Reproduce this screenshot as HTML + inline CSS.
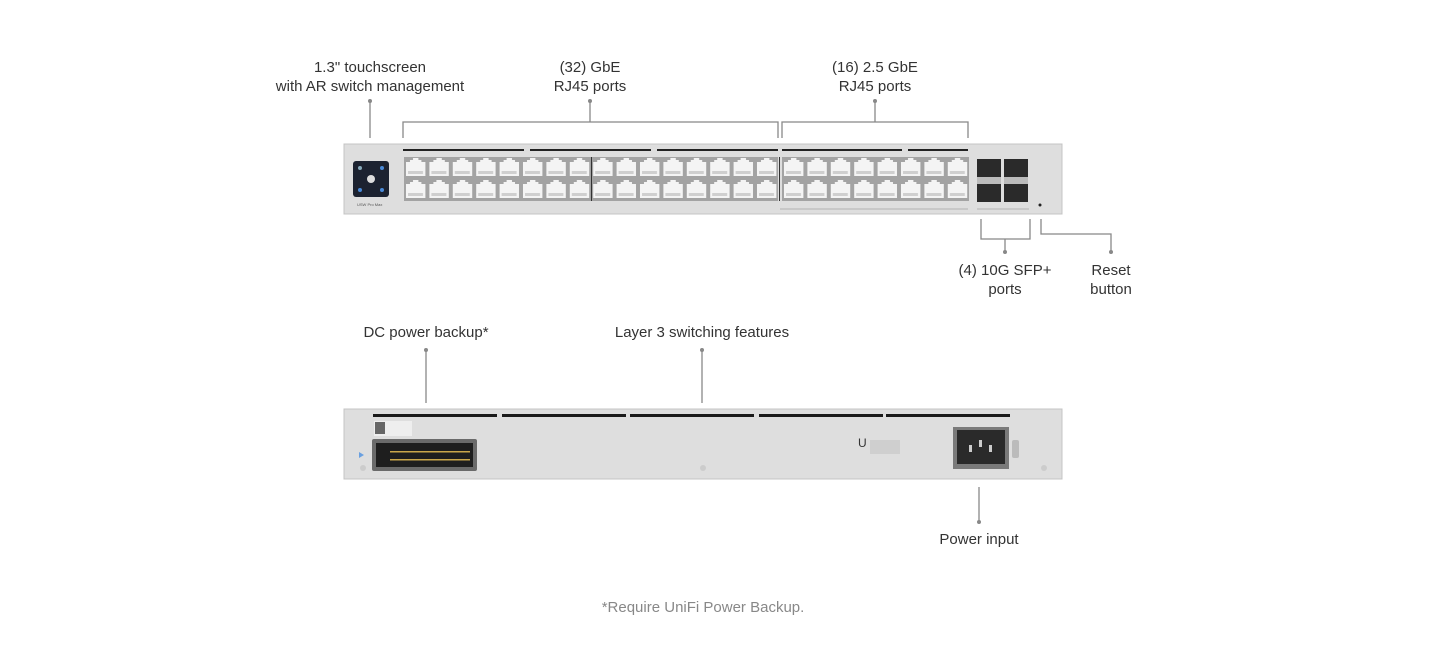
<!DOCTYPE html>
<html><head><meta charset="utf-8"><style>
html,body{margin:0;padding:0;background:#fff;}
svg{display:block}
text{font-family:"Liberation Sans",sans-serif;fill:#333;font-size:15px}
</style></head><body>
<svg width="1445" height="659" viewBox="0 0 1445 659" xmlns="http://www.w3.org/2000/svg">
<defs>
<pattern id="port" x="404" y="157" width="23.4" height="22" patternUnits="userSpaceOnUse">
<rect x="0" y="0" width="23.4" height="22" fill="#a3a3a3"/>
<path d="M2 5 h4 v-2 h3 v-2 h5.4 v2 h3 v2 h4 v14 h-19.4z" fill="#f4f4f4"/>
<rect x="4" y="14" width="15" height="3" fill="#cfcfcf"/>
</pattern>
<pattern id="port2" x="782" y="157" width="23.4" height="22" patternUnits="userSpaceOnUse">
<rect x="0" y="0" width="23.4" height="22" fill="#a3a3a3"/>
<path d="M2 5 h4 v-2 h3 v-2 h5.4 v2 h3 v2 h4 v14 h-19.4z" fill="#f4f4f4"/>
<rect x="4" y="14" width="15" height="3" fill="#cfcfcf"/>
</pattern>
</defs>
<text x="370" y="72" text-anchor="middle">1.3" touchscreen</text>
<text x="370" y="91" text-anchor="middle">with AR switch management</text>
<text x="590" y="72" text-anchor="middle">(32) GbE</text>
<text x="590" y="91" text-anchor="middle">RJ45 ports</text>
<text x="875" y="72" text-anchor="middle">(16) 2.5 GbE</text>
<text x="875" y="91" text-anchor="middle">RJ45 ports</text>
<text x="1005" y="275" text-anchor="middle">(4) 10G SFP+</text>
<text x="1005" y="294" text-anchor="middle">ports</text>
<text x="1111" y="275" text-anchor="middle">Reset</text>
<text x="1111" y="294" text-anchor="middle">button</text>
<text x="426" y="337" text-anchor="middle">DC power backup*</text>
<text x="702" y="337" text-anchor="middle">Layer 3 switching features</text>
<text x="979" y="544" text-anchor="middle">Power input</text>
<text x="703" y="612" text-anchor="middle" style="fill:#888">*Require UniFi Power Backup.</text>
<g stroke="#888" stroke-width="1.3" fill="none">
<line x1="370" y1="101" x2="370" y2="138"/>
<path d="M403 138 V122 H778 V138"/><line x1="590" y1="101" x2="590" y2="122"/>
<path d="M782 138 V122 H968 V138"/><line x1="875" y1="101" x2="875" y2="122"/>
<path d="M981 219 V239 H1030 V219"/><line x1="1005" y1="239" x2="1005" y2="252"/>
<path d="M1041 219 V234 H1111 V252"/>
<line x1="426" y1="350" x2="426" y2="403"/>
<line x1="702" y1="350" x2="702" y2="403"/>
<line x1="979" y1="487" x2="979" y2="522"/>
</g>
<g fill="#888">
<circle cx="370" cy="101" r="2"/><circle cx="590" cy="101" r="2"/><circle cx="875" cy="101" r="2"/>
<circle cx="1005" cy="252" r="2"/><circle cx="1111" cy="252" r="2"/>
<circle cx="426" cy="350" r="2"/><circle cx="702" cy="350" r="2"/><circle cx="979" cy="522" r="2"/>
</g>
<rect x="344" y="144" width="718" height="70" fill="#dedede" stroke="#c4c4c4"/>
<rect x="403" y="149" width="121" height="2" fill="#222"/>
<rect x="530" y="149" width="121" height="2" fill="#222"/>
<rect x="657" y="149" width="121" height="2" fill="#222"/>
<rect x="782" y="149" width="120" height="2" fill="#222"/>
<rect x="908" y="149" width="60" height="2" fill="#222"/>
<rect x="404" y="157" width="374" height="44" fill="url(#port)"/>
<rect x="782" y="157" width="187" height="44" fill="url(#port2)"/>
<line x1="591.5" y1="157" x2="591.5" y2="201" stroke="#333"/>
<line x1="779.5" y1="157" x2="779.5" y2="201" stroke="#333"/>
<rect x="780" y="208" width="188" height="2" fill="#c8c8c8"/>
<rect x="977" y="208" width="52" height="2" fill="#c8c8c8"/>
<rect x="353" y="161" width="36" height="36" rx="3" fill="#1c2230"/>
<circle cx="371" cy="179" r="4" fill="#ddd"/>
<circle cx="360" cy="168" r="2" fill="#8ab"/><circle cx="382" cy="168" r="2" fill="#4a8ad8"/>
<circle cx="360" cy="190" r="2" fill="#4a8ad8"/><circle cx="382" cy="190" r="2" fill="#4a8ad8"/>
<text x="357" y="206" style="font-size:4px;fill:#555">USW Pro Max</text>
<g fill="#2a2a2a">
<rect x="977" y="159" width="24" height="19"/><rect x="1004" y="159" width="24" height="19"/>
<rect x="977" y="183" width="24" height="19"/><rect x="1004" y="183" width="24" height="19"/>
</g>
<rect x="977" y="177" width="24" height="7" fill="#bbb"/><rect x="1004" y="177" width="24" height="7" fill="#bbb"/>
<circle cx="1040" cy="205" r="1.5" fill="#222"/>
<rect x="344" y="409" width="718" height="70" fill="#dedede" stroke="#c4c4c4"/>
<rect x="373" y="414" width="124" height="3" fill="#1a1a1a"/>
<rect x="502" y="414" width="124" height="3" fill="#1a1a1a"/>
<rect x="630" y="414" width="124" height="3" fill="#1a1a1a"/>
<rect x="759" y="414" width="124" height="3" fill="#1a1a1a"/>
<rect x="886" y="414" width="124" height="3" fill="#1a1a1a"/>
<rect x="374" y="421" width="38" height="15" fill="#eee"/>
<rect x="375" y="422" width="10" height="12" fill="#666"/>
<rect x="372" y="439" width="105" height="32" rx="2" fill="#6a6a6a"/>
<rect x="376" y="443" width="97" height="24" fill="#1e1e1e"/>
<g fill="#c9a64a">
<rect x="390" y="451" width="80" height="1.5"/><rect x="390" y="459" width="80" height="1.5"/>
</g>
<path d="M359 452 l5 3 l-5 3z" fill="#6aa0e0"/>
<circle cx="363" cy="468" r="3" fill="#ccc"/><circle cx="703" cy="468" r="3" fill="#ccc"/><circle cx="1044" cy="468" r="3" fill="#ccc"/>
<text x="858" y="447" style="font-size:12px;fill:#333">U</text>
<rect x="870" y="440" width="30" height="14" fill="#cfcfcf"/>
<rect x="953" y="427" width="56" height="42" fill="#7a7a7a"/>
<rect x="957" y="430" width="48" height="34" fill="#2a2a2a"/>
<rect x="969" y="445" width="3" height="7" fill="#ccc"/><rect x="979" y="440" width="3" height="7" fill="#ccc"/><rect x="989" y="445" width="3" height="7" fill="#ccc"/>
<rect x="1012" y="440" width="7" height="18" rx="2" fill="#bbb"/>
</svg>
</body></html>
